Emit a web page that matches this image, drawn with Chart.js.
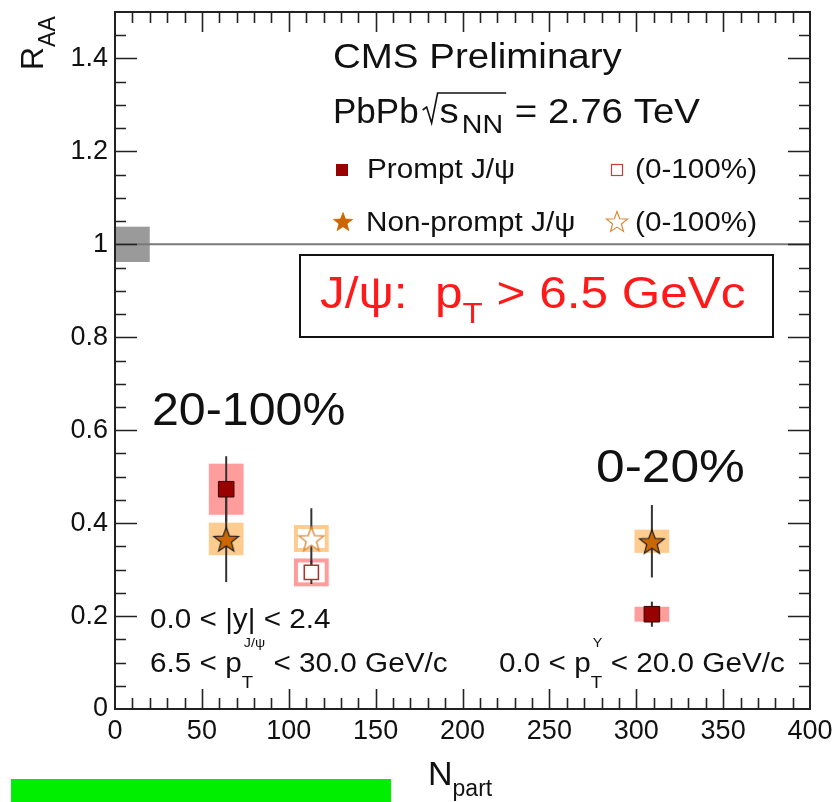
<!DOCTYPE html>
<html>
<head>
<meta charset="utf-8">
<script src="https://cdn.jsdelivr.net/npm/chart.js@4.4.0/dist/chart.umd.min.js"></script>
<style>
  html, body { margin: 0; padding: 0; background: #fff; }
  #wrap { width: 836px; height: 802px; }
</style>
</head>
<body>
<div id="wrap"><canvas id="raa" width="836" height="802"></canvas></div>
<script>
// centrality bins: 20-100% and 0-20%
const nPart = [64, 309];
const promptRaa = [0.473, 0.204];
const promptStat = [0.071, 0.027];
const promptSyst = [0.055, 0.016];
const nonPromptRaa = [0.366, 0.361];
const nonPromptStat = [0.093, 0.078];
const nonPromptSyst = [0.035, 0.025];

// minimum bias, 0-100%
const nPartMB = [113];
const promptRaaMB = [0.294];
const promptStatMB = [0.025];
const promptSystMB = [0.030];
const nonPromptRaaMB = [0.367];
const nonPromptStatMB = [0.065];
const nonPromptSystMB = [0.029];

// global uncertainty box drawn at R_AA = 1
const globalUnc = 0.038;
const globalBoxNpart = 20;
const systHalfWidth = 10; // box half width, Npart units

const xTicks = [0, 50, 100, 150, 200, 250, 300, 350, 400];
const xTickLabels = ['0', '50', '100', '150', '200', '250', '300', '350', '400'];
const yTicks = [0, 0.2, 0.4, 0.6, 0.8, 1.0, 1.2, 1.4];
const yTickLabels = ['0', '0.2', '0.4', '0.6', '0.8', '1', '1.2', '1.4'];

const FONT = '"Liberation Sans", Arial, Helvetica, sans-serif';
const WIDE = 1.1; // annotation text is drawn a little wider than normal
const PROMPT_COL = '#990000';
const NONPROMPT_COL = '#cc6600';
const PROMPT_BOX = '#ff9c9c';
const NONPROMPT_BOX = '#ffcc90';

function makeStar(r, fill, stroke, lw) {
  const pad = Math.ceil(lw) + 1;
  const size = 2 * (r + pad);
  const c = document.createElement('canvas');
  c.width = c.height = size;
  const g = c.getContext('2d');
  g.beginPath();
  for (let k = 0; k < 10; k++) {
    const rad = k % 2 ? r * 0.42 : r;
    const a = -Math.PI / 2 + k * Math.PI / 5;
    g.lineTo(size / 2 + rad * Math.cos(a), size / 2 + 1.5 + rad * Math.sin(a));
  }
  g.closePath();
  g.fillStyle = fill;
  g.fill();
  g.lineWidth = lw;
  g.strokeStyle = stroke;
  g.stroke();
  return c;
}

const starFilled = makeStar(13, NONPROMPT_COL, '#222', 1.2);
const starOpen = makeStar(13, '#fff', '#d98a3a', 1.4);
const starFilledLeg = makeStar(10, NONPROMPT_COL, NONPROMPT_COL, 0.8);
const starOpenLeg = makeStar(11, '#fff', '#d98a3a', 1.2);

const pts = (xs, ys) => xs.map((x, i) => ({ x: x, y: ys[i] }));

// draws a run of text pieces (own size / vertical shift each), stretched by sx
function runText(ctx, x, y, parts, color, sx) {
  sx = sx || WIDE;
  ctx.save();
  ctx.translate(x, y);
  ctx.scale(sx, 1);
  ctx.fillStyle = color;
  ctx.textAlign = 'left';
  ctx.textBaseline = 'alphabetic';
  let cx = 0;
  parts.forEach(p => {
    if (p.stack) {
      // subscript and superscript sharing one x
      let w = 0;
      p.stack.forEach(s => {
        ctx.font = s.size + 'px ' + FONT;
        ctx.fillText(s.t, cx + (s.dx || 0), s.dy);
        w = Math.max(w, ctx.measureText(s.t).width + (s.dx || 0));
      });
      cx += w;
    } else {
      ctx.font = p.size + 'px ' + FONT;
      ctx.fillText(p.t, cx, p.dy || 0);
      cx += ctx.measureText(p.t).width;
    }
  });
  ctx.restore();
  return x + cx * sx;
}

const decor = {
  id: 'decor',
  beforeDatasetsDraw(chart) {
    const { ctx, chartArea: a } = chart;
    const xs = chart.scales.x, ys = chart.scales.y;
    ctx.save();
    // global uncertainty and unity line
    ctx.fillStyle = '#9a9a9a';
    ctx.fillRect(xs.getPixelForValue(0), ys.getPixelForValue(1 + globalUnc),
      xs.getPixelForValue(globalBoxNpart) - xs.getPixelForValue(0),
      ys.getPixelForValue(1 - globalUnc) - ys.getPixelForValue(1 + globalUnc));
    ctx.strokeStyle = '#7a7a7a';
    ctx.lineWidth = 2;
    ctx.beginPath();
    ctx.moveTo(a.left, ys.getPixelForValue(1));
    ctx.lineTo(a.right, ys.getPixelForValue(1));
    ctx.stroke();

    const box = (x, v, e, col, open) => {
      const x0 = xs.getPixelForValue(x - systHalfWidth), x1 = xs.getPixelForValue(x + systHalfWidth);
      const y0 = ys.getPixelForValue(v + e), y1 = ys.getPixelForValue(v - e);
      if (open) {
        ctx.strokeStyle = col;
        ctx.lineWidth = 4;
        ctx.strokeRect(x0 + 2, y0 + 2, x1 - x0 - 4, y1 - y0 - 4);
      } else {
        ctx.fillStyle = col;
        ctx.fillRect(x0, y0, x1 - x0, y1 - y0);
      }
    };
    nPart.forEach((x, i) => {
      box(x, promptRaa[i], promptSyst[i], PROMPT_BOX, false);
      box(x, nonPromptRaa[i], nonPromptSyst[i], NONPROMPT_BOX, false);
    });
    nPartMB.forEach((x, i) => {
      box(x, promptRaaMB[i], promptSystMB[i], PROMPT_BOX, true);
      box(x, nonPromptRaaMB[i], nonPromptSystMB[i], NONPROMPT_BOX, true);
    });

    // statistical error bars
    const bar = (x, v, e) => {
      const px = xs.getPixelForValue(x);
      ctx.beginPath();
      ctx.moveTo(px, ys.getPixelForValue(v + e));
      ctx.lineTo(px, ys.getPixelForValue(v - e));
      ctx.stroke();
    };
    ctx.strokeStyle = '#333';
    ctx.lineWidth = 2;
    nPart.forEach((x, i) => {
      bar(x, promptRaa[i], promptStat[i]);
      bar(x, nonPromptRaa[i], nonPromptStat[i]);
    });
    nPartMB.forEach((x, i) => {
      bar(x, promptRaaMB[i], promptStatMB[i]);
      bar(x, nonPromptRaaMB[i], nonPromptStatMB[i]);
    });
    ctx.restore();
  },
  afterDraw(chart) {
    const { ctx, chartArea: a } = chart;
    const xs = chart.scales.x, ys = chart.scales.y;
    ctx.save();

    // frame with inward ticks on all four sides
    ctx.strokeStyle = '#222';
    ctx.lineWidth = 2;
    ctx.strokeRect(a.left, a.top, a.right - a.left, a.bottom - a.top);
    ctx.lineWidth = 1.6;
    ctx.beginPath();
    for (let v = 10; v < 400; v += 10) {
      const px = Math.round(xs.getPixelForValue(v)) + 0.5;
      const len = v % 50 === 0 ? 20 : 11;
      ctx.moveTo(px, a.bottom); ctx.lineTo(px, a.bottom - len);
      ctx.moveTo(px, a.top); ctx.lineTo(px, a.top + len);
    }
    for (let k = 1; k < 30; k++) {
      const py = Math.round(ys.getPixelForValue(k * 0.05)) + 0.5;
      const len = k % 4 === 0 ? 22 : 11;
      ctx.moveTo(a.left, py); ctx.lineTo(a.left + len, py);
      ctx.moveTo(a.right, py); ctx.lineTo(a.right - len, py);
    }
    ctx.stroke();

    // axis titles
    runText(ctx, 428, 785, [{ t: 'N', size: 34 }, { t: 'part', size: 23, dy: 11 }], '#111', 1);
    ctx.save();
    ctx.translate(43, 70);
    ctx.rotate(-Math.PI / 2);
    runText(ctx, 0, 0, [{ t: 'R', size: 32 }, { t: 'AA', size: 23, dy: 12 }], '#111', 1);
    ctx.restore();

    // header
    runText(ctx, 333, 68, [{ t: 'CMS Preliminary', size: 35 }], '#111');
    let cx = runText(ctx, 333, 123, [{ t: 'PbPb', size: 35 }], '#111', 1);
    const sEnd = runText(ctx, cx + 21, 123, [{ t: 's', size: 35 }], '#111');
    const nnEnd = runText(ctx, sEnd + 3, 133, [{ t: 'NN', size: 26 }], '#111');
    ctx.strokeStyle = '#111';
    ctx.lineWidth = 1.6;
    ctx.beginPath();
    ctx.moveTo(cx + 4, 110);
    ctx.lineTo(cx + 8, 107);
    ctx.lineTo(cx + 13, 123);
    ctx.lineTo(cx + 19, 93);
    ctx.lineTo(nnEnd + 3, 93);
    ctx.stroke();
    runText(ctx, nnEnd + 1, 123, [{ t: ' = 2.76 TeV', size: 35 }], '#111');

    // legend
    ctx.fillStyle = PROMPT_COL;
    ctx.fillRect(336, 164, 12, 12);
    ctx.strokeStyle = '#c04040';
    ctx.lineWidth = 1.2;
    ctx.strokeRect(611.5, 164.5, 11, 11);
    ctx.drawImage(starFilledLeg, 343 - starFilledLeg.width / 2, 221 - starFilledLeg.height / 2);
    ctx.drawImage(starOpenLeg, 617 - starOpenLeg.width / 2, 221 - starOpenLeg.height / 2);
    runText(ctx, 367, 178, [{ t: 'Prompt J/\u03c8', size: 27 }], '#111');
    runText(ctx, 635, 178, [{ t: '(0-100%)', size: 27 }], '#111');
    runText(ctx, 366, 231, [{ t: 'Non-prompt J/\u03c8', size: 27 }], '#111');
    runText(ctx, 635, 231, [{ t: '(0-100%)', size: 27 }], '#111');

    // kinematic cut box
    ctx.fillStyle = '#fff';
    ctx.fillRect(300, 255, 473, 82);
    ctx.strokeStyle = '#111';
    ctx.lineWidth = 2;
    ctx.strokeRect(300, 255, 473, 82);
    runText(ctx, 320, 308, [
      { t: 'J/\u03c8:  p', size: 45 },
      { t: 'T', size: 30, dy: 15 },
      { t: ' > 6.5 GeVc', size: 45 }
    ], '#ff1a1a');

    // centrality labels
    runText(ctx, 152, 425, [{ t: '20-100%', size: 46 }], '#111', 1.05);
    runText(ctx, 596, 482, [{ t: '0-20%', size: 46 }], '#111', 1.12);

    // acceptance
    runText(ctx, 150, 628, [{ t: '0.0 < |y| < 2.4', size: 27 }], '#111');
    runText(ctx, 150, 672, [
      { t: '6.5 < p', size: 27 },
      { stack: [{ t: 'T', size: 17, dy: 16 }, { t: 'J/\u03c8', size: 13, dy: -25, dx: 2 }] },
      { t: ' < 30.0 GeV/c', size: 27 }
    ], '#111');
    runText(ctx, 499, 672, [
      { t: '0.0 < p', size: 27 },
      { stack: [{ t: 'T', size: 17, dy: 16 }, { t: '\u03a5', size: 13, dy: -25, dx: 2 }] },
      { t: ' < 20.0 GeV/c', size: 27 }
    ], '#111');

    // caption strip
    ctx.fillStyle = '#00ee00';
    ctx.fillRect(11, 779, 380, 23);
    ctx.restore();
  }
};

new Chart(document.getElementById('raa'), {
  type: 'scatter',
  data: {
    datasets: [
      {
        label: 'Prompt J/\u03c8',
        data: pts(nPart, promptRaa),
        pointStyle: 'rect',
        pointRadius: 11,
        backgroundColor: PROMPT_COL,
        borderColor: '#3a0000',
        borderWidth: 1
      },
      {
        label: 'Non-prompt J/\u03c8',
        data: pts(nPart, nonPromptRaa),
        pointStyle: starFilled
      },
      {
        label: 'Prompt J/\u03c8 (0-100%)',
        data: pts(nPartMB, promptRaaMB),
        pointStyle: 'rect',
        pointRadius: 10,
        backgroundColor: '#fff',
        borderColor: '#b03030',
        borderWidth: 1.5
      },
      {
        label: 'Non-prompt J/\u03c8 (0-100%)',
        data: pts(nPartMB, nonPromptRaaMB),
        pointStyle: starOpen
      }
    ]
  },
  options: {
    responsive: false,
    animation: false,
    devicePixelRatio: 1,
    layout: { padding: { top: 11, right: 26, left: 0, bottom: 0 } },
    plugins: { legend: { display: false }, tooltip: { enabled: false } },
    scales: {
      x: {
        type: 'linear',
        min: 0,
        max: 400,
        grid: { display: false, drawTicks: false },
        border: { display: false },
        afterBuildTicks: s => { s.ticks = xTicks.map(v => ({ value: v })); },
        afterFit: s => { s.height = 93; s.paddingLeft = 0; s.paddingRight = 0; },
        ticks: {
          padding: 6,
          autoSkip: false,
          maxRotation: 0,
          color: '#111',
          font: { family: FONT, size: 27 },
          callback: (v, i) => xTickLabels[i]
        }
      },
      y: {
        type: 'linear',
        min: 0,
        max: 1.5,
        grid: { display: false, drawTicks: false },
        border: { display: false },
        afterBuildTicks: s => { s.ticks = yTicks.map(v => ({ value: v })); },
        afterFit: s => { s.width = 115; s.paddingTop = 0; s.paddingBottom = 0; },
        ticks: {
          padding: 7,
          autoSkip: false,
          color: '#111',
          font: { family: FONT, size: 27 },
          callback: (v, i) => yTickLabels[i]
        }
      }
    }
  },
  plugins: [decor]
});
</script>
</body>
</html>
